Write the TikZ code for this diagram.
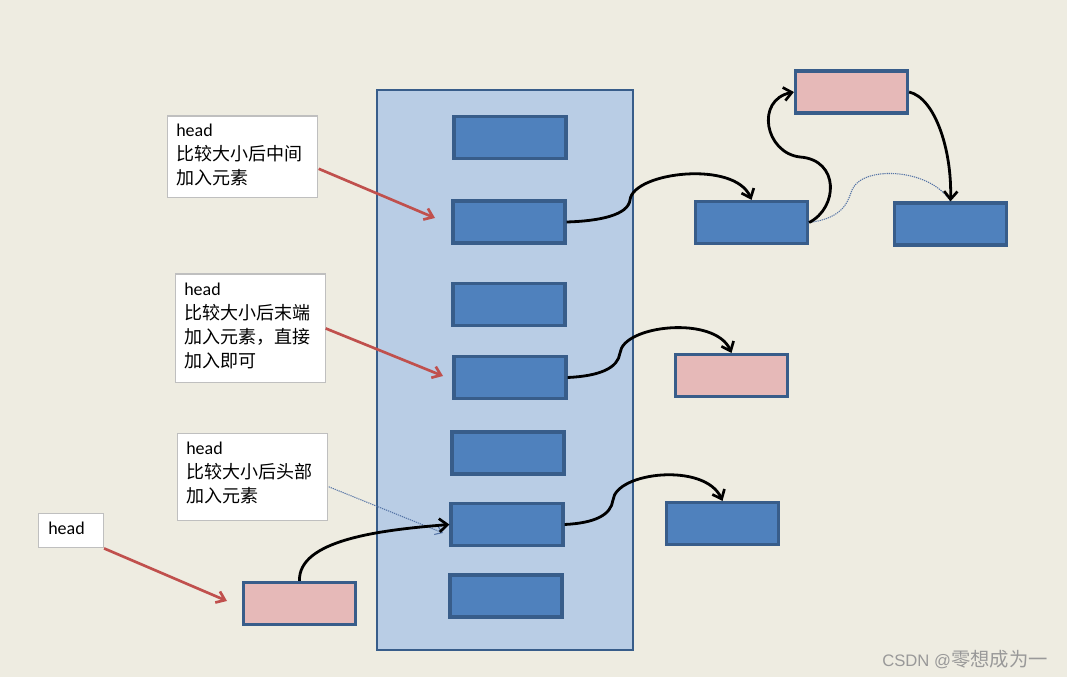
\documentclass[tikz,border=0pt]{standalone}
\usepackage{fontspec}
\setmainfont{Carlito}
\newfontfamily\cjk{Noto Sans CJK SC}
\newfontfamily\wmfont{Liberation Sans}
\usetikzlibrary{arrows.meta,calc}
\definecolor{bgc}{HTML}{EEECE1}
\definecolor{boxblue}{HTML}{4F81BD}
\definecolor{boxedge}{HTML}{385D8A}
\definecolor{listblue}{HTML}{B9CDE5}
\definecolor{boxpink}{HTML}{E6B9B8}
\definecolor{arrred}{HTML}{C0504D}
\definecolor{lblgray}{HTML}{BFBFBF}
\definecolor{dotblue}{HTML}{5574A6}
\tikzset{
  cell/.style={draw=boxedge, line width=2.4pt, inner sep=0pt, minimum width=84pt, minimum height=31.5pt},
  bluecell/.style={cell, fill=boxblue},
  pinkcell/.style={cell, fill=boxpink},
  listbox/.style={draw=boxedge, fill=listblue, line width=2.2pt, inner sep=0pt},
  labelbox/.style={draw=lblgray, fill=white, line width=0.9pt, inner sep=0pt, anchor=north west},
  labeltext/.style={inner sep=0pt, anchor=north west, align=left, font=\fontsize{13.5}{18}\selectfont},
  link/.style={line width=2.1pt, black, -{Straight Barb[length=6pt,width=10pt,line width=2pt]}},
  redarrow/.style={line width=2pt, arrred, -{Straight Barb[length=6pt,width=9pt,line width=2pt]}},
  dotlink/.style={line width=0.8pt, dotblue, dash pattern=on 0.9pt off 0.7pt}
}
\begin{document}
\begin{tikzpicture}[x=0.75pt,y=-0.75pt]
\useasboundingbox[fill=bgc] (0,0) rectangle (1067,677);
% the list
\node[listbox, minimum width=192pt, minimum height=420pt] (list) at (505,370) {};
\node[bluecell] (b1) at (510,137.5) {};
\node[bluecell] (b2) at (509,222) {};
\node[bluecell] (b3) at (509,304.5) {};
\node[bluecell] (b4) at (510,377.5) {};
\node[bluecell] (b5) at (508,453) {};
\node[bluecell] (b6) at (507,524.5) {};
\node[bluecell] (b7) at (506,596) {};
% outside elements
\node[pinkcell] (p1) at (851.5,92) {};
\node[bluecell] (r1) at (751.5,222.5) {};
\node[bluecell] (r2) at (950.5,224) {};
\node[pinkcell] (p2) at (731.5,375.5) {};
\node[bluecell] (r3) at (722.5,523.5) {};
\node[pinkcell] (p3) at (299.5,603.5) {};
% labels
\node[labelbox, minimum width=112.5pt, minimum height=61pt] (l1) at (166.5,115.5) {};
\node[labeltext] (l1t) at (176,124) {head\\{\cjk 比较大小后中间}\\{\cjk 加入元素}};
\node[labelbox, minimum width=112.5pt, minimum height=81.5pt] (l2) at (174.5,273.5) {};
\node[labeltext] (l2t) at (184,283) {head\\{\cjk 比较大小后末端}\\{\cjk 加入元素，直接}\\{\cjk 加入即可}};
\node[labelbox, minimum width=112.5pt, minimum height=65.5pt] (l3) at (176.5,432.5) {};
\node[labeltext] (l3t) at (186,442) {head\\{\cjk 比较大小后头部}\\{\cjk 加入元素}};
\node[labelbox, minimum width=49pt, minimum height=26pt] (l4) at (37.5,512.5) {};
\node[labeltext] (l4t) at (48,522) {head};
% arrow targets
\coordinate (t1) at (435,218);
\coordinate (t2) at (443,376);
\coordinate (t3) at (443,533);
\coordinate (t4) at (227,601);
% red arrows
\draw[redarrow] ($(l1.east)+(1,12)$) -- (t1);
\draw[redarrow] (l2.east) -- (t2);
\draw[redarrow] (l4.south east) -- (t4);
\draw[dotlink, -{Straight Barb[length=5pt,width=7pt,line width=0.8pt]}] ($(l3.east)+(1,10)$) -- (t3);
% links
\draw[dotlink] (r1.east) .. controls (845,218) and (848,200) .. (852,190) .. controls (862,165) and (930,168) .. (r2.north);
\draw[link] (b2.east) .. controls (600,221) and (628,215) .. (630,200) .. controls (633,172) and (735,160) .. (r1.north);
\draw[link] (r1.east) .. controls (838,208) and (840,160) .. (800,157) .. controls (765,153) and (755,100) .. (p1.west);
\draw[link] (p1.east) .. controls (935,98) and (952,150) .. (r2.north);
\draw[link] (b4.east) .. controls (600,376) and (618,368) .. (620,353) .. controls (623,325) and (715,315) .. (p2.north);
\draw[link] (b6.east) .. controls (595,523) and (611,515) .. (613,500) .. controls (616,472) and (705,462) .. (r3.north);
\draw[link] (p3.north) .. controls (298,540) and (380,530) .. (b6.west);
% watermark
\node[anchor=base west, inner sep=0pt, text=black!40] (wm) at (882,666) {\wmfont\fontsize{12.5}{14}\selectfont CSDN @{\cjk\fontsize{14.5}{16}\selectfont 零想成为一}};
\end{tikzpicture}
\end{document}
